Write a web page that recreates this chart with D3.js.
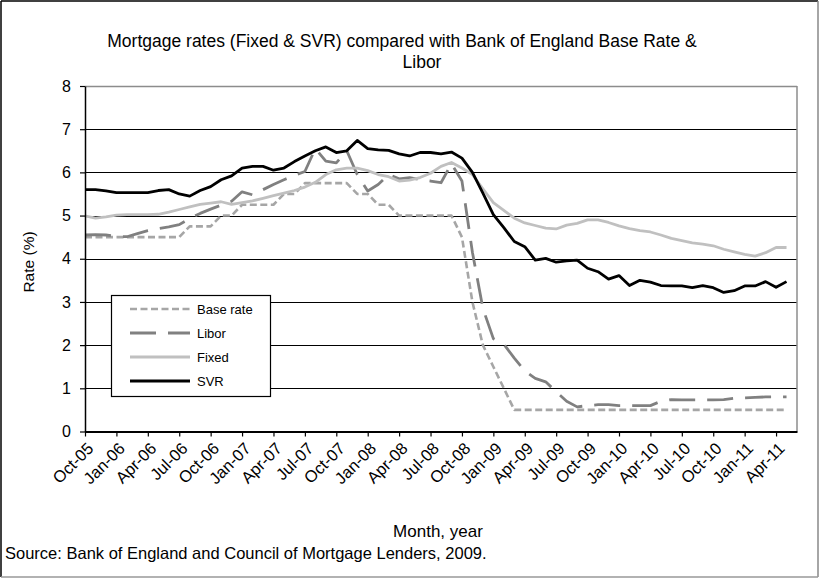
<!DOCTYPE html>
<html>
<head>
<meta charset="utf-8">
<script src="https://cdn.jsdelivr.net/npm/d3@7/dist/d3.min.js"></script>
<style>
  body { margin: 0; background: #fff; }
  svg text { font-family: "Liberation Sans", Arial, sans-serif; fill: #000; }
</style>
</head>
<body>
<script>
// monthly categories, Oct-05 .. May-11
const months = [
  'Oct-05', 'Nov-05', 'Dec-05',
  'Jan-06', 'Feb-06', 'Mar-06', 'Apr-06', 'May-06', 'Jun-06', 'Jul-06', 'Aug-06', 'Sep-06', 'Oct-06', 'Nov-06', 'Dec-06',
  'Jan-07', 'Feb-07', 'Mar-07', 'Apr-07', 'May-07', 'Jun-07', 'Jul-07', 'Aug-07', 'Sep-07', 'Oct-07', 'Nov-07', 'Dec-07',
  'Jan-08', 'Feb-08', 'Mar-08', 'Apr-08', 'May-08', 'Jun-08', 'Jul-08', 'Aug-08', 'Sep-08', 'Oct-08', 'Nov-08', 'Dec-08',
  'Jan-09', 'Feb-09', 'Mar-09', 'Apr-09', 'May-09', 'Jun-09', 'Jul-09', 'Aug-09', 'Sep-09', 'Oct-09', 'Nov-09', 'Dec-09',
  'Jan-10', 'Feb-10', 'Mar-10', 'Apr-10', 'May-10', 'Jun-10', 'Jul-10', 'Aug-10', 'Sep-10', 'Oct-10', 'Nov-10', 'Dec-10',
  'Jan-11', 'Feb-11', 'Mar-11', 'Apr-11', 'May-11'
]

const baseRate = [
  4.5, 4.5, 4.5,
  4.5, 4.5, 4.5, 4.5, 4.5, 4.5, 4.5, 4.75, 4.75, 4.75, 5.0, 5.0,
  5.25, 5.25, 5.25, 5.25, 5.5, 5.5, 5.75, 5.75, 5.75, 5.75, 5.75, 5.5,
  5.5, 5.25, 5.25, 5.0, 5.0, 5.0, 5.0, 5.0, 5.0, 4.5, 3.0, 2.0,
  1.5, 1.0, 0.5, 0.5, 0.5, 0.5, 0.5, 0.5, 0.5, 0.5, 0.5, 0.5,
  0.5, 0.5, 0.5, 0.5, 0.5, 0.5, 0.5, 0.5, 0.5, 0.5, 0.5, 0.5,
  0.5, 0.5, 0.5, 0.5, 0.5
]

const libor = [
  4.55, 4.56, 4.55,
  4.52, 4.51, 4.58, 4.65, 4.7, 4.74, 4.79, 4.93, 5.05, 5.15, 5.24, 5.33,
  5.55, 5.48, 5.6, 5.72, 5.83, 5.93, 6.02, 6.55, 6.26, 6.22, 6.5, 5.95,
  5.57, 5.72, 5.95, 5.85, 5.88, 5.83, 5.8, 5.76, 6.2, 5.8, 4.15, 2.85,
  2.15, 2.02, 1.7, 1.4, 1.23, 1.15, 0.92, 0.7, 0.57, 0.6, 0.62, 0.62,
  0.6, 0.6, 0.6, 0.6, 0.7, 0.74, 0.73, 0.73, 0.73, 0.73, 0.74, 0.77,
  0.78, 0.79, 0.8, 0.8, 0.8
]

const fixed = [
  4.99, 4.94, 4.97,
  5.01, 5.02, 5.02, 5.02, 5.03, 5.08, 5.14, 5.2, 5.26, 5.29, 5.32, 5.26,
  5.3, 5.34, 5.4, 5.46, 5.52, 5.58, 5.66, 5.77, 5.95, 6.06, 6.1, 6.1,
  6.04, 5.95, 5.9, 5.8, 5.82, 5.88, 5.98, 6.14, 6.23, 6.1, 5.95, 5.62,
  5.3, 5.12, 4.94, 4.83, 4.77, 4.71, 4.69, 4.78, 4.82, 4.9, 4.9, 4.84,
  4.76, 4.7, 4.65, 4.62, 4.55, 4.47, 4.42, 4.37, 4.34, 4.3, 4.22, 4.16,
  4.1, 4.06, 4.14, 4.26, 4.26
]

const svr = [
  5.6, 5.6, 5.57,
  5.53, 5.53, 5.53, 5.53, 5.58, 5.6, 5.5, 5.45, 5.58, 5.67, 5.83, 5.92,
  6.1, 6.14, 6.14, 6.05, 6.1, 6.25, 6.38, 6.5, 6.59, 6.46, 6.5, 6.74,
  6.55, 6.52, 6.51, 6.43, 6.38, 6.46, 6.46, 6.43, 6.47, 6.33, 6.0, 5.52,
  5.02, 4.72, 4.4, 4.28, 3.97, 4.01, 3.92, 3.95, 3.97, 3.78, 3.7, 3.53,
  3.61, 3.38, 3.5, 3.46, 3.38, 3.37, 3.37, 3.33, 3.38, 3.33, 3.22, 3.26,
  3.37, 3.37, 3.47, 3.34, 3.47
]

const yTicks = [0, 1, 2, 3, 4, 5, 6, 7, 8]
const xTickIdx = d3.range(0, months.length, 3) // Oct-05, Jan-06, ... Apr-11

const series = [
  { name: 'Base rate', values: baseRate, color: '#a6a6a6', dash: '7,3.5', width: 2.6 },
  { name: 'Libor', values: libor, color: '#808080', dash: '26,12', width: 2.8 },
  { name: 'Fixed', values: fixed, color: '#c0c0c0', dash: null, width: 2.8 },
  { name: 'SVR', values: svr, color: '#000000', dash: null, width: 2.8 }
]

const w = 820
const h = 580
const plotLeft = 85, plotRight = 797, plotTop = 86, plotBottom = 431.5

const svg = d3.select('body').append('svg')
  .attr('width', w)
  .attr('height', h)

// outer frame
svg.append('line').attr('x1', 1).attr('y1', 1).attr('x2', 818).attr('y2', 1).attr('stroke', '#000').attr('stroke-width', 1.5)
svg.append('line').attr('x1', 1).attr('y1', 1).attr('x2', 1).attr('y2', 577).attr('stroke', '#000').attr('stroke-width', 1.5)
svg.append('line').attr('x1', 818).attr('y1', 1).attr('x2', 818).attr('y2', 577).attr('stroke', '#888').attr('stroke-width', 1.5)
svg.append('line').attr('x1', 1).attr('y1', 577).attr('x2', 818).attr('y2', 577).attr('stroke', '#999').attr('stroke-width', 1.5)

const xScale = d3.scaleLinear()
  .domain([0, months.length])
  .range([plotLeft, plotRight])
const yScale = d3.scaleLinear()
  .domain([0, 8])
  .range([plotBottom, plotTop])

// gridlines
svg.append('g')
  .selectAll('line')
  .data(yTicks.filter(d => d > 0))
  .enter()
  .append('line')
  .attr('x1', plotLeft)
  .attr('x2', plotRight)
  .attr('y1', d => Math.round(yScale(d)) + 0.5)
  .attr('y2', d => Math.round(yScale(d)) + 0.5)
  .attr('stroke', d => d === 8 ? '#8c8c8c' : '#000')
  .attr('stroke-width', d => d === 8 ? 1.5 : 1.2)

// right border of plot area
svg.append('line')
  .attr('x1', plotRight).attr('x2', plotRight)
  .attr('y1', yScale(8)).attr('y2', plotBottom)
  .attr('stroke', '#8c8c8c')
  .attr('stroke-width', 1.5)

// series
const line = d3.line()
  .x((d, i) => xScale(i))
  .y(d => yScale(d))

svg.selectAll('path.series')
  .data(series)
  .enter()
  .append('path')
  .attr('class', 'series')
  .attr('d', d => line(d.values))
  .attr('fill', 'none')
  .attr('stroke', d => d.color)
  .attr('stroke-width', d => d.width)
  .attr('stroke-dasharray', d => d.dash)
  .attr('stroke-linejoin', 'round')

// axes
const yAxis = d3.axisLeft(yScale)
  .tickValues(yTicks)
  .tickSize(5)
  .tickSizeOuter(0)
  .tickPadding(9)

const gy = svg.append('g')
  .attr('id', 'y-axis')
  .attr('transform', `translate(${plotLeft}, 0)`)
  .call(yAxis)
gy.select('.domain').attr('stroke', '#000').attr('stroke-width', 1.5)
gy.selectAll('.tick line').attr('stroke', '#000').attr('stroke-width', 1.2)
gy.selectAll('text').style('font-size', '16px').attr('fill', '#000')

const xAxis = d3.axisBottom(xScale)
  .tickValues(xTickIdx)
  .tickFormat(i => months[i])
  .tickSize(5)
  .tickSizeOuter(0)

const gx = svg.append('g')
  .attr('id', 'x-axis')
  .attr('transform', `translate(0, ${plotBottom})`)
  .call(xAxis)
gx.select('.domain').attr('stroke', '#000').attr('stroke-width', 2)
gx.selectAll('.tick line').attr('stroke', '#000').attr('stroke-width', 1.2)
gx.selectAll('text')
  .style('font-size', '16.5px')
  .attr('fill', '#000')
  .attr('text-anchor', 'end')
  .attr('y', null)
  .attr('dy', '0.35em')
  .attr('transform', 'translate(5, 14) rotate(-45)')

// titles
svg.append('text')
  .attr('x', 402)
  .attr('y', 47)
  .attr('text-anchor', 'middle')
  .style('font-size', '17.5px')
  .text('Mortgage rates (Fixed & SVR) compared with Bank of England Base Rate &')
svg.append('text')
  .attr('x', 422)
  .attr('y', 68)
  .attr('text-anchor', 'middle')
  .style('font-size', '17.5px')
  .text('Libor')

svg.append('text')
  .attr('transform', 'translate(34, 262) rotate(-90)')
  .attr('text-anchor', 'middle')
  .style('font-size', '15.5px')
  .text('Rate (%)')

svg.append('text')
  .attr('x', 438)
  .attr('y', 537)
  .attr('text-anchor', 'middle')
  .style('font-size', '17px')
  .text('Month, year')

svg.append('text')
  .attr('x', 5)
  .attr('y', 559)
  .style('font-size', '16.5px')
  .text('Source: Bank of England and Council of Mortgage Lenders, 2009.')

// legend
const legend = svg.append('g')
legend.append('rect')
  .attr('x', 111.5)
  .attr('y', 295.5)
  .attr('width', 159)
  .attr('height', 101)
  .attr('fill', '#fff')
  .attr('stroke', '#000')
  .attr('stroke-width', 1.2)

const item = legend.selectAll('g.item')
  .data(series)
  .enter()
  .append('g')
  .attr('class', 'item')
  .attr('transform', (d, i) => `translate(0, ${309 + i * 24})`)

item.append('line')
  .attr('x1', 130)
  .attr('x2', 190)
  .attr('stroke', d => d.color)
  .attr('stroke-width', d => d.width)
  .attr('stroke-dasharray', d => d.dash)

item.append('text')
  .attr('x', 197)
  .attr('dy', '0.35em')
  .style('font-size', '13px')
  .text(d => d.name)
</script>
</body>
</html>
